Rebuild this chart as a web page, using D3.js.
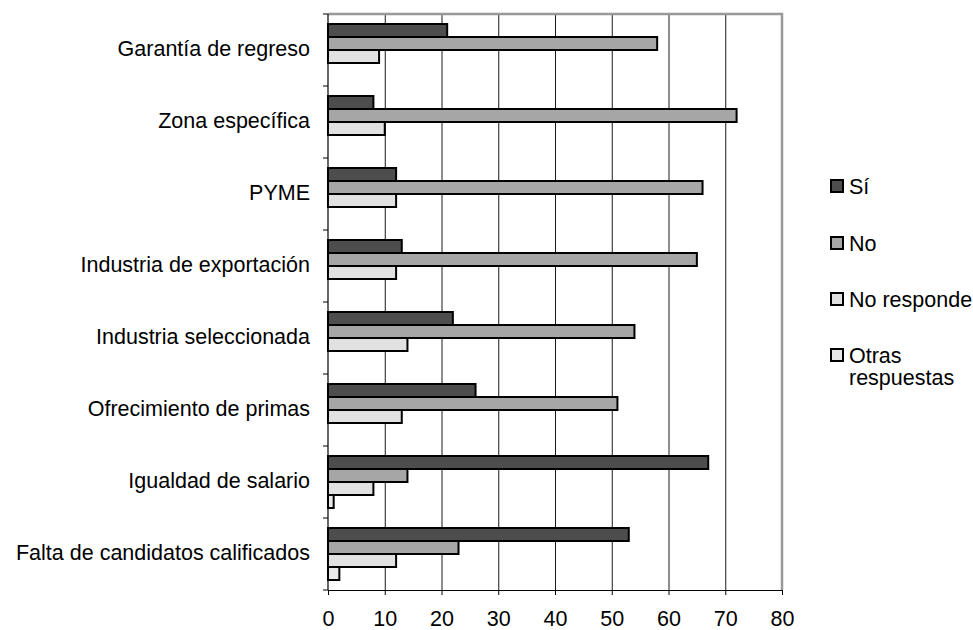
<!DOCTYPE html>
<html>
<head>
<meta charset="utf-8">
<script src="https://cdn.jsdelivr.net/npm/d3@7/dist/d3.min.js"></script>
<style>
  html, body { margin: 0; padding: 0; background: #fff; }
  svg text { font-family: "Liberation Sans", Arial, sans-serif; fill: #000; }
</style>
</head>
<body>
<svg id="chart" width="973" height="630"></svg>
<script>
// Survey answers per topic (percent)
const categories = [
  "Garantía de regreso",
  "Zona específica",
  "PYME",
  "Industria de exportación",
  "Industria seleccionada",
  "Ofrecimiento de primas",
  "Igualdad de salario",
  "Falta de candidatos calificados"
];
const seriesNames = ["Sí", "No", "No responde", "Otras respuestas"];
const si         = [21,  8, 12, 13, 22, 26, 67, 53];
const no         = [58, 72, 66, 65, 54, 51, 14, 23];
const noResponde = [ 9, 10, 12, 12, 14, 13,  8, 12];
const otras      = [ 0,  0,  0,  0,  0,  0,  1,  2];
const xTicks = [0, 10, 20, 30, 40, 50, 60, 70, 80];

const seriesValues = [si, no, noResponde, otras];
const colors = ["#4d4d4d", "#a6a6a6", "#e1e1e1", "#e8e8e8"];

const svg = d3.select("#chart");
const plotLeft = 328, plotRight = 782, plotTop = 14, plotBottom = 590;
const fontSize = 21.5;

const x = d3.scaleLinear().domain([0, 80]).range([plotLeft, plotRight]);
const y = d3.scaleBand().domain(categories).range([plotTop, plotBottom]);
const barH = 13;
const inner = d3.scaleBand().domain(seriesNames)
  .range([0, barH * seriesNames.length]);

// vertical gridlines
svg.append("g")
  .selectAll("line")
  .data(xTicks.filter(t => t > 0 && t < 80))
  .join("line")
  .attr("x1", d => x(d) + 0.5).attr("x2", d => x(d) + 0.5)
  .attr("y1", plotTop).attr("y2", plotBottom)
  .attr("stroke", "#1a1a1a").attr("stroke-width", 1);

// plot frame top and right
svg.append("path")
  .attr("d", `M${plotLeft},${plotTop}H${plotRight}V${plotBottom}`)
  .attr("fill", "none").attr("stroke", "#999").attr("stroke-width", 2.5);

// bars
const groupOffset = (y.bandwidth() - barH * seriesNames.length) / 2;
categories.forEach((cat, ci) => {
  const g = svg.append("g")
    .attr("transform", `translate(0,${y(cat) + groupOffset})`);
  seriesNames.forEach((s, k) => {
    const v = seriesValues[k][ci];
    if (v <= 0) return;
    g.append("rect")
      .attr("x", x(0))
      .attr("y", inner(s))
      .attr("width", x(v) - x(0))
      .attr("height", inner.bandwidth())
      .attr("fill", colors[k])
      .attr("stroke", "#000")
      .attr("stroke-width", 2);
  });
});

// x axis
const xAxis = svg.append("g")
  .attr("transform", `translate(0,${plotBottom})`)
  .call(d3.axisBottom(x).tickValues(xTicks).tickSize(5).tickSizeOuter(0).tickPadding(16));
xAxis.select(".domain").attr("stroke", "#000");
xAxis.selectAll(".tick line").attr("stroke", "#000");
xAxis.selectAll("text").attr("font-size", fontSize)
  .attr("font-family", "Liberation Sans, Arial, sans-serif");

// y axis: ticks on category boundaries
const yAxisG = svg.append("g");
yAxisG.append("line")
  .attr("x1", plotLeft).attr("x2", plotLeft).attr("y1", plotTop).attr("y2", plotBottom)
  .attr("stroke", "#000").attr("stroke-width", 1.2);
const boundaries = categories.map(c => y(c)).concat([plotBottom]);
yAxisG.selectAll("line.tk")
  .data(boundaries)
  .join("line").attr("class", "tk")
  .attr("x1", plotLeft - 5).attr("x2", plotLeft)
  .attr("y1", d => d).attr("y2", d => d)
  .attr("stroke", "#000");
yAxisG.selectAll("text")
  .data(categories)
  .join("text")
  .attr("x", 310)
  .attr("y", d => y(d) + y.bandwidth() / 2 - 2)
  .attr("dy", "0.35em")
  .attr("text-anchor", "end")
  .attr("font-size", fontSize)
  .text(d => d);

// legend
const legendY = [186, 243, 299, 355];
const legend = svg.append("g");
seriesNames.forEach((s, i) => {
  legend.append("rect")
    .attr("x", 831).attr("y", legendY[i] - 6)
    .attr("width", 12).attr("height", 12)
    .attr("fill", colors[i]).attr("stroke", "#000").attr("stroke-width", 2);
  const t = legend.append("text")
    .attr("x", 849).attr("y", legendY[i])
    .attr("dy", "0.35em")
    .attr("font-size", fontSize);
  if (s === "Otras respuestas") {
    t.append("tspan").attr("x", 849).text("Otras");
    t.append("tspan").attr("x", 849).attr("dy", "1.05em").text("respuestas");
  } else {
    t.text(s);
  }
});
</script>
</body>
</html>
